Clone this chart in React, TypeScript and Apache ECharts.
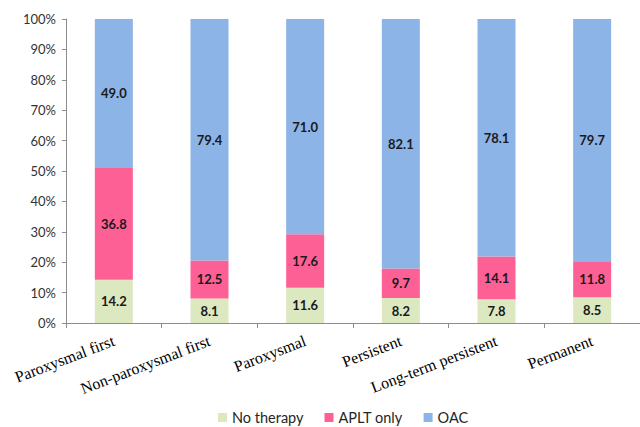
import React, { useEffect, useRef } from "react";
import * as echarts from "echarts";

const categories = [
  "Paroxysmal first",
  "Non-paroxysmal first",
  "Paroxysmal",
  "Persistent",
  "Long-term persistent",
  "Permanent",
];
const noTherapy = [14.2, 8.1, 11.6, 8.2, 7.8, 8.5];
const apltOnly = [36.8, 12.5, 17.6, 9.7, 14.1, 11.8];
const oac = [49.0, 79.4, 71.0, 82.1, 78.1, 79.7];
const seriesNames = ["No therapy", "APLT only", "OAC"];

export default function App() {
  const ref = useRef<HTMLDivElement>(null);
  useEffect(() => {
    document.body.style.margin = "0";
    const chart = echarts.init(ref.current!, null, { renderer: "svg" });
    const label = {
      show: true,
      position: "inside",
      fontFamily: "Lato",
      fontWeight: "bold",
      fontSize: 13,
      color: "#1a1a1a",
      formatter: (p: any) => Number(p.value).toFixed(1),
    };
    const mk = (name: string, data: number[], color: string) => ({
      name,
      type: "bar",
      stack: "total",
      data,
      barWidth: 38,
      itemStyle: { color },
      label,
    });
    chart.setOption({
      animation: false,
      grid: { left: 66, top: 19, width: 584, height: 304 },
      legend: {
        data: seriesNames,
        left: 213,
        top: 405,
        icon: "rect",
        itemWidth: 9,
        itemHeight: 9,
        itemGap: 21,
        itemStyle: { borderWidth: 0 },
        textStyle: { fontFamily: "Lato", fontSize: 14.5, color: "#262626", lineHeight: 15 },
      },
      xAxis: {
        type: "category",
        data: categories,
        axisLine: { lineStyle: { color: "#8c8c8c" } },
        axisTick: { show: true, length: 5, lineStyle: { color: "#8c8c8c" } },
        axisLabel: {
          rotate: 21,
          interval: 0,
          margin: 17,
          fontFamily: "Liberation Serif",
          fontSize: 16,
          color: "#000",
        },
      },
      yAxis: {
        type: "value",
        min: 0,
        max: 100,
        interval: 10,
        splitLine: { show: false },
        axisLine: { show: true, lineStyle: { color: "#8c8c8c" } },
        axisTick: { show: true, length: 4, lineStyle: { color: "#8c8c8c" } },
        axisLabel: {
          formatter: "{value}%",
          fontFamily: "Lato",
          fontSize: 13,
          color: "#333",
          margin: 10,
        },
      },
      series: [
        mk(seriesNames[0], noTherapy, "#dce8c0"),
        mk(seriesNames[1], apltOnly, "#fd6094"),
        mk(seriesNames[2], oac, "#8db4e6"),
      ],
    });
    return () => chart.dispose();
  }, []);
  return <div ref={ref} style={{ width: 640, height: 427 }} />;
}
